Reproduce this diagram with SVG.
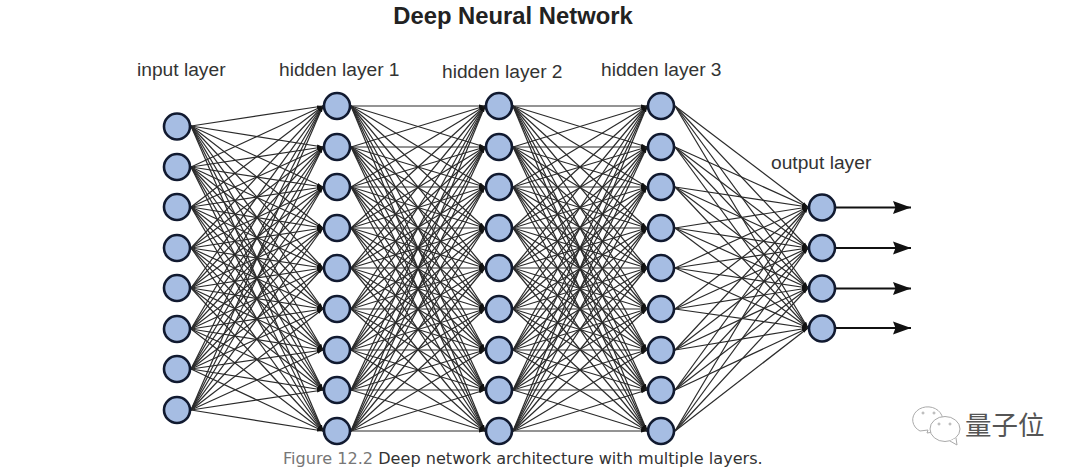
<svg xmlns="http://www.w3.org/2000/svg" width="1080" height="474" viewBox="0 0 1080 474">
<style>
text{font-family:"Liberation Sans",Arial,sans-serif}
.lab{font-size:19.2px;fill:#333}
.cap{font-family:"DejaVu Sans",Verdana,sans-serif;font-size:16.1px;fill:#333}
.n{fill:#a6bde3;stroke:#111a30;stroke-width:2.6}
#connectors line{stroke:#2a2a2a;stroke-width:1.2;marker-end:url(#tip)}
#connectors line.out{stroke:#111;stroke-width:2.2;marker-end:url(#big)}
</style>
<defs>
<marker id="tip" markerUnits="userSpaceOnUse" markerWidth="7" markerHeight="5" refX="6" refY="2.500" orient="auto"><path d="M0 1L6 2.500L0 4z" fill="#111"/></marker>
<marker id="big" markerUnits="userSpaceOnUse" markerWidth="19" markerHeight="15" refX="18" refY="7.500" orient="auto"><path d="M0 1L18 7.500L0 14L2.500 7.500z" fill="#111"/></marker>
</defs>
<rect width="1080" height="474" fill="#fff"/>
<text x="513" y="23.500" text-anchor="middle" font-size="23.800" font-weight="bold" fill="#222">Deep Neural Network</text>
<text class="lab" x="137" y="76">input layer</text>
<text class="lab" x="279" y="76">hidden layer 1</text>
<text class="lab" x="442" y="78">hidden layer 2</text>
<text class="lab" x="601" y="76">hidden layer 3</text>
<text class="lab" x="771" y="169">output layer</text>
<g id="connectors">
<line x1="191" y1="126" x2="323" y2="106"/><line x1="191" y1="126" x2="323" y2="147"/><line x1="191" y1="126" x2="323" y2="187"/><line x1="191" y1="126" x2="323" y2="228"/><line x1="191" y1="126" x2="323" y2="268"/><line x1="191" y1="126" x2="323" y2="309"/><line x1="191" y1="126" x2="323" y2="350"/><line x1="191" y1="126" x2="323" y2="390"/><line x1="191" y1="126" x2="323" y2="431"/>
<line x1="191" y1="167" x2="323" y2="106"/><line x1="191" y1="167" x2="323" y2="147"/><line x1="191" y1="167" x2="323" y2="187"/><line x1="191" y1="167" x2="323" y2="228"/><line x1="191" y1="167" x2="323" y2="268"/><line x1="191" y1="167" x2="323" y2="309"/><line x1="191" y1="167" x2="323" y2="350"/><line x1="191" y1="167" x2="323" y2="390"/><line x1="191" y1="167" x2="323" y2="431"/>
<line x1="191" y1="207" x2="323" y2="106"/><line x1="191" y1="207" x2="323" y2="147"/><line x1="191" y1="207" x2="323" y2="187"/><line x1="191" y1="207" x2="323" y2="228"/><line x1="191" y1="207" x2="323" y2="268"/><line x1="191" y1="207" x2="323" y2="309"/><line x1="191" y1="207" x2="323" y2="350"/><line x1="191" y1="207" x2="323" y2="390"/><line x1="191" y1="207" x2="323" y2="431"/>
<line x1="191" y1="248" x2="323" y2="106"/><line x1="191" y1="248" x2="323" y2="147"/><line x1="191" y1="248" x2="323" y2="187"/><line x1="191" y1="248" x2="323" y2="228"/><line x1="191" y1="248" x2="323" y2="268"/><line x1="191" y1="248" x2="323" y2="309"/><line x1="191" y1="248" x2="323" y2="350"/><line x1="191" y1="248" x2="323" y2="390"/><line x1="191" y1="248" x2="323" y2="431"/>
<line x1="191" y1="288" x2="323" y2="106"/><line x1="191" y1="288" x2="323" y2="147"/><line x1="191" y1="288" x2="323" y2="187"/><line x1="191" y1="288" x2="323" y2="228"/><line x1="191" y1="288" x2="323" y2="268"/><line x1="191" y1="288" x2="323" y2="309"/><line x1="191" y1="288" x2="323" y2="350"/><line x1="191" y1="288" x2="323" y2="390"/><line x1="191" y1="288" x2="323" y2="431"/>
<line x1="191" y1="329" x2="323" y2="106"/><line x1="191" y1="329" x2="323" y2="147"/><line x1="191" y1="329" x2="323" y2="187"/><line x1="191" y1="329" x2="323" y2="228"/><line x1="191" y1="329" x2="323" y2="268"/><line x1="191" y1="329" x2="323" y2="309"/><line x1="191" y1="329" x2="323" y2="350"/><line x1="191" y1="329" x2="323" y2="390"/><line x1="191" y1="329" x2="323" y2="431"/>
<line x1="191" y1="369" x2="323" y2="106"/><line x1="191" y1="369" x2="323" y2="147"/><line x1="191" y1="369" x2="323" y2="187"/><line x1="191" y1="369" x2="323" y2="228"/><line x1="191" y1="369" x2="323" y2="268"/><line x1="191" y1="369" x2="323" y2="309"/><line x1="191" y1="369" x2="323" y2="350"/><line x1="191" y1="369" x2="323" y2="390"/><line x1="191" y1="369" x2="323" y2="431"/>
<line x1="191" y1="410" x2="323" y2="106"/><line x1="191" y1="410" x2="323" y2="147"/><line x1="191" y1="410" x2="323" y2="187"/><line x1="191" y1="410" x2="323" y2="228"/><line x1="191" y1="410" x2="323" y2="268"/><line x1="191" y1="410" x2="323" y2="309"/><line x1="191" y1="410" x2="323" y2="350"/><line x1="191" y1="410" x2="323" y2="390"/><line x1="191" y1="410" x2="323" y2="431"/>
<line x1="351" y1="106" x2="485" y2="106"/><line x1="351" y1="106" x2="485" y2="147"/><line x1="351" y1="106" x2="485" y2="187"/><line x1="351" y1="106" x2="485" y2="228"/><line x1="351" y1="106" x2="485" y2="268"/><line x1="351" y1="106" x2="485" y2="309"/><line x1="351" y1="106" x2="485" y2="350"/><line x1="351" y1="106" x2="485" y2="390"/><line x1="351" y1="106" x2="485" y2="431"/>
<line x1="351" y1="147" x2="485" y2="106"/><line x1="351" y1="147" x2="485" y2="147"/><line x1="351" y1="147" x2="485" y2="187"/><line x1="351" y1="147" x2="485" y2="228"/><line x1="351" y1="147" x2="485" y2="268"/><line x1="351" y1="147" x2="485" y2="309"/><line x1="351" y1="147" x2="485" y2="350"/><line x1="351" y1="147" x2="485" y2="390"/><line x1="351" y1="147" x2="485" y2="431"/>
<line x1="351" y1="187" x2="485" y2="106"/><line x1="351" y1="187" x2="485" y2="147"/><line x1="351" y1="187" x2="485" y2="187"/><line x1="351" y1="187" x2="485" y2="228"/><line x1="351" y1="187" x2="485" y2="268"/><line x1="351" y1="187" x2="485" y2="309"/><line x1="351" y1="187" x2="485" y2="350"/><line x1="351" y1="187" x2="485" y2="390"/><line x1="351" y1="187" x2="485" y2="431"/>
<line x1="351" y1="228" x2="485" y2="106"/><line x1="351" y1="228" x2="485" y2="147"/><line x1="351" y1="228" x2="485" y2="187"/><line x1="351" y1="228" x2="485" y2="228"/><line x1="351" y1="228" x2="485" y2="268"/><line x1="351" y1="228" x2="485" y2="309"/><line x1="351" y1="228" x2="485" y2="350"/><line x1="351" y1="228" x2="485" y2="390"/><line x1="351" y1="228" x2="485" y2="431"/>
<line x1="351" y1="268" x2="485" y2="106"/><line x1="351" y1="268" x2="485" y2="147"/><line x1="351" y1="268" x2="485" y2="187"/><line x1="351" y1="268" x2="485" y2="228"/><line x1="351" y1="268" x2="485" y2="268"/><line x1="351" y1="268" x2="485" y2="309"/><line x1="351" y1="268" x2="485" y2="350"/><line x1="351" y1="268" x2="485" y2="390"/><line x1="351" y1="268" x2="485" y2="431"/>
<line x1="351" y1="309" x2="485" y2="106"/><line x1="351" y1="309" x2="485" y2="147"/><line x1="351" y1="309" x2="485" y2="187"/><line x1="351" y1="309" x2="485" y2="228"/><line x1="351" y1="309" x2="485" y2="268"/><line x1="351" y1="309" x2="485" y2="309"/><line x1="351" y1="309" x2="485" y2="350"/><line x1="351" y1="309" x2="485" y2="390"/><line x1="351" y1="309" x2="485" y2="431"/>
<line x1="351" y1="350" x2="485" y2="106"/><line x1="351" y1="350" x2="485" y2="147"/><line x1="351" y1="350" x2="485" y2="187"/><line x1="351" y1="350" x2="485" y2="228"/><line x1="351" y1="350" x2="485" y2="268"/><line x1="351" y1="350" x2="485" y2="309"/><line x1="351" y1="350" x2="485" y2="350"/><line x1="351" y1="350" x2="485" y2="390"/><line x1="351" y1="350" x2="485" y2="431"/>
<line x1="351" y1="390" x2="485" y2="106"/><line x1="351" y1="390" x2="485" y2="147"/><line x1="351" y1="390" x2="485" y2="187"/><line x1="351" y1="390" x2="485" y2="228"/><line x1="351" y1="390" x2="485" y2="268"/><line x1="351" y1="390" x2="485" y2="309"/><line x1="351" y1="390" x2="485" y2="350"/><line x1="351" y1="390" x2="485" y2="390"/><line x1="351" y1="390" x2="485" y2="431"/>
<line x1="351" y1="431" x2="485" y2="106"/><line x1="351" y1="431" x2="485" y2="147"/><line x1="351" y1="431" x2="485" y2="187"/><line x1="351" y1="431" x2="485" y2="228"/><line x1="351" y1="431" x2="485" y2="268"/><line x1="351" y1="431" x2="485" y2="309"/><line x1="351" y1="431" x2="485" y2="350"/><line x1="351" y1="431" x2="485" y2="390"/><line x1="351" y1="431" x2="485" y2="431"/>
<line x1="513" y1="106" x2="647" y2="106"/><line x1="513" y1="106" x2="647" y2="147"/><line x1="513" y1="106" x2="647" y2="187"/><line x1="513" y1="106" x2="647" y2="228"/><line x1="513" y1="106" x2="647" y2="268"/><line x1="513" y1="106" x2="647" y2="309"/><line x1="513" y1="106" x2="647" y2="350"/><line x1="513" y1="106" x2="647" y2="390"/><line x1="513" y1="106" x2="647" y2="431"/>
<line x1="513" y1="147" x2="647" y2="106"/><line x1="513" y1="147" x2="647" y2="147"/><line x1="513" y1="147" x2="647" y2="187"/><line x1="513" y1="147" x2="647" y2="228"/><line x1="513" y1="147" x2="647" y2="268"/><line x1="513" y1="147" x2="647" y2="309"/><line x1="513" y1="147" x2="647" y2="350"/><line x1="513" y1="147" x2="647" y2="390"/><line x1="513" y1="147" x2="647" y2="431"/>
<line x1="513" y1="187" x2="647" y2="106"/><line x1="513" y1="187" x2="647" y2="147"/><line x1="513" y1="187" x2="647" y2="187"/><line x1="513" y1="187" x2="647" y2="228"/><line x1="513" y1="187" x2="647" y2="268"/><line x1="513" y1="187" x2="647" y2="309"/><line x1="513" y1="187" x2="647" y2="350"/><line x1="513" y1="187" x2="647" y2="390"/><line x1="513" y1="187" x2="647" y2="431"/>
<line x1="513" y1="228" x2="647" y2="106"/><line x1="513" y1="228" x2="647" y2="147"/><line x1="513" y1="228" x2="647" y2="187"/><line x1="513" y1="228" x2="647" y2="228"/><line x1="513" y1="228" x2="647" y2="268"/><line x1="513" y1="228" x2="647" y2="309"/><line x1="513" y1="228" x2="647" y2="350"/><line x1="513" y1="228" x2="647" y2="390"/><line x1="513" y1="228" x2="647" y2="431"/>
<line x1="513" y1="268" x2="647" y2="106"/><line x1="513" y1="268" x2="647" y2="147"/><line x1="513" y1="268" x2="647" y2="187"/><line x1="513" y1="268" x2="647" y2="228"/><line x1="513" y1="268" x2="647" y2="268"/><line x1="513" y1="268" x2="647" y2="309"/><line x1="513" y1="268" x2="647" y2="350"/><line x1="513" y1="268" x2="647" y2="390"/><line x1="513" y1="268" x2="647" y2="431"/>
<line x1="513" y1="309" x2="647" y2="106"/><line x1="513" y1="309" x2="647" y2="147"/><line x1="513" y1="309" x2="647" y2="187"/><line x1="513" y1="309" x2="647" y2="228"/><line x1="513" y1="309" x2="647" y2="268"/><line x1="513" y1="309" x2="647" y2="309"/><line x1="513" y1="309" x2="647" y2="350"/><line x1="513" y1="309" x2="647" y2="390"/><line x1="513" y1="309" x2="647" y2="431"/>
<line x1="513" y1="350" x2="647" y2="106"/><line x1="513" y1="350" x2="647" y2="147"/><line x1="513" y1="350" x2="647" y2="187"/><line x1="513" y1="350" x2="647" y2="228"/><line x1="513" y1="350" x2="647" y2="268"/><line x1="513" y1="350" x2="647" y2="309"/><line x1="513" y1="350" x2="647" y2="350"/><line x1="513" y1="350" x2="647" y2="390"/><line x1="513" y1="350" x2="647" y2="431"/>
<line x1="513" y1="390" x2="647" y2="106"/><line x1="513" y1="390" x2="647" y2="147"/><line x1="513" y1="390" x2="647" y2="187"/><line x1="513" y1="390" x2="647" y2="228"/><line x1="513" y1="390" x2="647" y2="268"/><line x1="513" y1="390" x2="647" y2="309"/><line x1="513" y1="390" x2="647" y2="350"/><line x1="513" y1="390" x2="647" y2="390"/><line x1="513" y1="390" x2="647" y2="431"/>
<line x1="513" y1="431" x2="647" y2="106"/><line x1="513" y1="431" x2="647" y2="147"/><line x1="513" y1="431" x2="647" y2="187"/><line x1="513" y1="431" x2="647" y2="228"/><line x1="513" y1="431" x2="647" y2="268"/><line x1="513" y1="431" x2="647" y2="309"/><line x1="513" y1="431" x2="647" y2="350"/><line x1="513" y1="431" x2="647" y2="390"/><line x1="513" y1="431" x2="647" y2="431"/>
<line x1="675" y1="106" x2="808" y2="207"/><line x1="675" y1="106" x2="808" y2="248"/><line x1="675" y1="106" x2="808" y2="288"/><line x1="675" y1="106" x2="808" y2="328"/>
<line x1="675" y1="147" x2="808" y2="207"/><line x1="675" y1="147" x2="808" y2="248"/><line x1="675" y1="147" x2="808" y2="288"/><line x1="675" y1="147" x2="808" y2="328"/>
<line x1="675" y1="187" x2="808" y2="207"/><line x1="675" y1="187" x2="808" y2="248"/><line x1="675" y1="187" x2="808" y2="288"/><line x1="675" y1="187" x2="808" y2="328"/>
<line x1="675" y1="228" x2="808" y2="207"/><line x1="675" y1="228" x2="808" y2="248"/><line x1="675" y1="228" x2="808" y2="288"/><line x1="675" y1="228" x2="808" y2="328"/>
<line x1="675" y1="268" x2="808" y2="207"/><line x1="675" y1="268" x2="808" y2="248"/><line x1="675" y1="268" x2="808" y2="288"/><line x1="675" y1="268" x2="808" y2="328"/>
<line x1="675" y1="309" x2="808" y2="207"/><line x1="675" y1="309" x2="808" y2="248"/><line x1="675" y1="309" x2="808" y2="288"/><line x1="675" y1="309" x2="808" y2="328"/>
<line x1="675" y1="350" x2="808" y2="207"/><line x1="675" y1="350" x2="808" y2="248"/><line x1="675" y1="350" x2="808" y2="288"/><line x1="675" y1="350" x2="808" y2="328"/>
<line x1="675" y1="390" x2="808" y2="207"/><line x1="675" y1="390" x2="808" y2="248"/><line x1="675" y1="390" x2="808" y2="288"/><line x1="675" y1="390" x2="808" y2="328"/>
<line x1="675" y1="431" x2="808" y2="207"/><line x1="675" y1="431" x2="808" y2="248"/><line x1="675" y1="431" x2="808" y2="288"/><line x1="675" y1="431" x2="808" y2="328"/>
<line class="out" x1="836" y1="207.500" x2="911" y2="207.500"/>
<line class="out" x1="836" y1="248" x2="911" y2="248"/>
<line class="out" x1="836" y1="288.500" x2="911" y2="288.500"/>
<line class="out" x1="836" y1="328" x2="911" y2="328"/>
</g>
<g id="input-layer">
<g id="i1"><circle class="n" cx="177" cy="126.500" r="13"/></g>
<g id="i2"><circle class="n" cx="177" cy="167" r="13"/></g>
<g id="i3"><circle class="n" cx="177" cy="207" r="13"/></g>
<g id="i4"><circle class="n" cx="177" cy="248" r="13"/></g>
<g id="i5"><circle class="n" cx="177" cy="288" r="13"/></g>
<g id="i6"><circle class="n" cx="177" cy="329" r="13"/></g>
<g id="i7"><circle class="n" cx="177" cy="369" r="13"/></g>
<g id="i8"><circle class="n" cx="177" cy="410" r="13"/></g>
</g>
<g id="hidden-1">
<g id="h1-1"><circle class="n" cx="337" cy="106" r="13"/></g>
<g id="h1-2"><circle class="n" cx="337" cy="147" r="13"/></g>
<g id="h1-3"><circle class="n" cx="337" cy="187" r="13"/></g>
<g id="h1-4"><circle class="n" cx="337" cy="228" r="13"/></g>
<g id="h1-5"><circle class="n" cx="337" cy="268" r="13"/></g>
<g id="h1-6"><circle class="n" cx="337" cy="309" r="13"/></g>
<g id="h1-7"><circle class="n" cx="337" cy="350" r="13"/></g>
<g id="h1-8"><circle class="n" cx="337" cy="390" r="13"/></g>
<g id="h1-9"><circle class="n" cx="337" cy="431" r="13"/></g>
</g>
<g id="hidden-2">
<g id="h2-1"><circle class="n" cx="499" cy="106" r="13"/></g>
<g id="h2-2"><circle class="n" cx="499" cy="147" r="13"/></g>
<g id="h2-3"><circle class="n" cx="499" cy="187" r="13"/></g>
<g id="h2-4"><circle class="n" cx="499" cy="228" r="13"/></g>
<g id="h2-5"><circle class="n" cx="499" cy="268" r="13"/></g>
<g id="h2-6"><circle class="n" cx="499" cy="309" r="13"/></g>
<g id="h2-7"><circle class="n" cx="499" cy="350" r="13"/></g>
<g id="h2-8"><circle class="n" cx="499" cy="390" r="13"/></g>
<g id="h2-9"><circle class="n" cx="499" cy="431" r="13"/></g>
</g>
<g id="hidden-3">
<g id="h3-1"><circle class="n" cx="661" cy="106" r="13"/></g>
<g id="h3-2"><circle class="n" cx="661" cy="147" r="13"/></g>
<g id="h3-3"><circle class="n" cx="661" cy="187" r="13"/></g>
<g id="h3-4"><circle class="n" cx="661" cy="228" r="13"/></g>
<g id="h3-5"><circle class="n" cx="661" cy="268" r="13"/></g>
<g id="h3-6"><circle class="n" cx="661" cy="309" r="13"/></g>
<g id="h3-7"><circle class="n" cx="661" cy="350" r="13"/></g>
<g id="h3-8"><circle class="n" cx="661" cy="390" r="13"/></g>
<g id="h3-9"><circle class="n" cx="661" cy="431" r="13"/></g>
</g>
<g id="output-layer">
<g id="o1"><circle class="n" cx="822" cy="207.500" r="13"/></g>
<g id="o2"><circle class="n" cx="822" cy="248" r="13"/></g>
<g id="o3"><circle class="n" cx="822" cy="288.500" r="13"/></g>
<g id="o4"><circle class="n" cx="822" cy="328.500" r="13"/></g>
</g>
<text class="cap" x="283" y="464"><tspan fill="#777">Figure 12.2</tspan> Deep network architecture with multiple layers.</text>
<g id="watermark" fill="none" stroke="#aaa" stroke-width="1">
<path d="M920 431a15 13 0 1 1 13 1l-6 1l1-3z" fill="#fff"/>
<ellipse cx="945" cy="429" rx="15" ry="12.500" fill="#fff"/>
<path d="M950 441l7 4l-1-7" fill="#fff"/>
<circle cx="923" cy="413" r="1"/><circle cx="934" cy="413" r="1"/><circle cx="939" cy="424" r="1"/><circle cx="950" cy="424" r="1"/>
<text x="965" y="435" font-size="26.500" fill="#555" stroke="none" style="font-family:'Noto Sans CJK SC',sans-serif">量子位</text>
</g>
</svg>
